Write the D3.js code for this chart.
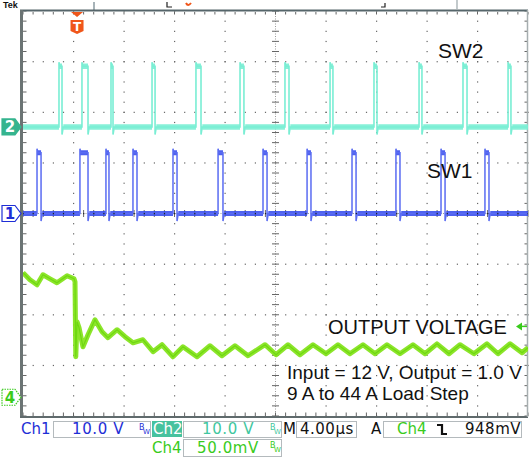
<!DOCTYPE html>
<html><head><meta charset="utf-8">
<script src="https://cdn.jsdelivr.net/npm/d3@7/dist/d3.min.js"></script>
<style>
body{margin:0;background:#fff;overflow:hidden;}
svg{display:block;}
</style>
</head><body>
<svg id="c" width="531" height="460"></svg>
<script>
// ---------------- DATA ----------------
const timeDomain = [0, 40];              // µs : 10 div x 4.00 µs
const timePerDiv = 4;
// SW2 (Ch2) pulses: [rise, fall] in µs
const sw2Rise = [2.85, 4.67, 6.97, 10.22, 13.70, 17.19, 20.75, 24.32, 27.80, 31.37, 34.85, 38.42];
const sw2Fall = [3.09, 5.15, 7.13, 10.46, 14.10, 17.50, 21.07, 24.55, 28.04, 31.60, 35.17, 38.65];
// SW1 (Ch1) pulses: [rise, fall] in µs
const sw1Rise = [1.11, 4.51, 6.57, 8.71, 11.88, 15.45, 19.01, 22.50, 26.06, 29.54, 33.11, 36.59];
const sw1Fall = [1.43, 5.15, 6.81, 9.03, 12.20, 15.84, 19.33, 22.81, 26.38, 29.86, 33.43, 36.91];
const swHigh = 12;        // V
const swOvershoot = 0.8;  // V
const swUndershoot = 1.5; // V
// Output voltage (Ch4, mV relative to Ch4 reference marker)
const outT  = [0,0.55,1.11,1.58,2.14,2.69,3.49,4.04,4.12,4.18,4.28,4.44,4.75,5.15,5.70,6.26,6.73,7.45,8.08,8.71,9.50,10.30,11.01,11.88,12.67,13.78,14.81,15.76,16.79,17.82,19.17,20.04,20.99,21.94,22.97,24.00,24.95,25.90,26.93,27.88,28.83,29.86,30.89,31.84,32.79,33.74,34.61,35.72,36.75,37.62,38.58,39.53,40.0];
const outMV = [123.0,116.1,111.1,121.0,117.0,113.1,120.0,117.0,114.1,40.0,74.6,68.6,49.9,61.7,76.5,64.7,58.8,66.7,59.8,53.8,56.8,45.0,51.9,40.0,49.9,40.0,50.9,41.0,50.9,41.0,51.9,42.0,51.9,42.0,51.9,43.0,51.9,43.0,51.9,43.0,51.9,43.0,51.9,43.0,52.8,43.0,51.9,43.0,52.8,43.0,52.8,44.0,48.9];
// Channel settings
const chNames = ["Ch1", "Ch2", "Ch4"];
const chScaleText = ["10.0 V", "10.0 V", "50.0mV"];
const chVoltsPerDiv = [10, 10, 50];
const chPositionDiv = [0, 1.71, -3.63];
const triggerTime = 4.28;   // µs
const triggerLevelMV = 70;  // relative to Ch4 marker
const triggerText = "948mV";
const timebaseText = "4.00µs";
const labelTexts = ["SW2", "SW1", "OUTPUT VOLTAGE", "Input = 12 V, Output = 1.0 V", "9 A to 44 A Load Step"];

// ---------------- LAYOUT ----------------
const X0 = 23, X1 = 528, Y0 = 11, Y1 = 416;
const svg = d3.select("#c");
const x = d3.scaleLinear().domain(timeDomain).range([X0, X1]);
const divY = d3.scaleLinear().domain([-4, 4]).range([Y1, Y0]);
const divX = d3.scaleLinear().domain([0, 10]).range([X0, X1]);
function chScale(i) {
  const v = chVoltsPerDiv[i], p = chPositionDiv[i];
  return d3.scaleLinear().domain([(-4 - p) * v, (4 - p) * v]).range([Y1, Y0]);
}
const y1 = chScale(0), y2 = chScale(1), y4 = chScale(2);

const COL = {
  blue: "#2f45ec", blueTxt: "#1e2ed6",
  cyan: "#7aeed4", teal: "#35b48e", tealTxt: "#3fc7a0",
  green: "#86e41f", greenTxt: "#3acb1c",
  orange: "#f0561a"
};

svg.append("rect").attr("width", 531).attr("height", 460).attr("fill", "#fff");

// ---------------- HEADER ----------------
svg.append("text").attr("x", 3).attr("y", 8).attr("font-family", "Liberation Sans, Arial, sans-serif")
  .attr("font-weight", "bold").attr("font-size", 9).attr("fill", "#111").text("Tek");
svg.append("line").attr("x1", 94).attr("x2", 94).attr("y1", 2).attr("y2", 10).attr("stroke", "#8a9aa0").attr("stroke-width", 1.5);
svg.append("path").attr("d", "M167,2 V7 H172").attr("fill", "none").attr("stroke", "#222").attr("stroke-width", 1.2);
svg.append("path").attr("d", "M186,3 Q188,7 191,3").attr("fill", "none").attr("stroke", COL.orange).attr("stroke-width", 2);
svg.append("path").attr("d", "M381,7 H385 V3").attr("fill", "none").attr("stroke", "#222").attr("stroke-width", 1.2);
svg.append("line").attr("x1", 457).attr("x2", 457).attr("y1", 0).attr("y2", 9).attr("stroke", "#9aa6aa").attr("stroke-width", 1.2);

// ---------------- GRATICULE ----------------
const g = svg.append("g");
const minor = d3.range(0, 8.001, 0.2).map(d => d - 4);   // vertical minor positions (div)
const minorH = d3.range(0, 10.001, 0.2);                 // horizontal minor positions (div)
[1,2,3,4,6,7,8,9].forEach(i => {
  g.selectAll(null).data(minor).enter().append("rect")
    .attr("x", divX(i) - 0.5).attr("y", d => divY(d) - 0.5).attr("width", 1.2).attr("height", 1.2).attr("fill", "#666");
});
[-3,-2,-1,1,2,3].forEach(j => {
  g.selectAll(null).data(minorH).enter().append("rect")
    .attr("x", d => divX(d) - 0.5).attr("y", divY(j) - 0.5).attr("width", 1.2).attr("height", 1.2).attr("fill", "#666");
});
g.append("line").attr("x1", divX(5)).attr("x2", divX(5)).attr("y1", Y0).attr("y2", Y1)
  .attr("stroke", "#9a9a9a").attr("stroke-width", 1).attr("stroke-dasharray", "1,1.5");
g.append("line").attr("x1", X0).attr("x2", X1).attr("y1", divY(0)).attr("y2", divY(0))
  .attr("stroke", "#9a9a9a").attr("stroke-width", 1).attr("stroke-dasharray", "1,1.5");
g.selectAll(null).data(minor).enter().append("line")
  .attr("x1", divX(5) - 3.5).attr("x2", divX(5) + 3.5).attr("y1", d => divY(d)).attr("y2", d => divY(d))
  .attr("stroke", "#666").attr("stroke-width", 1);
g.selectAll(null).data(minorH).enter().append("line")
  .attr("y1", divY(0) - 3.5).attr("y2", divY(0) + 3.5).attr("x1", d => divX(d)).attr("x2", d => divX(d))
  .attr("stroke", "#666").attr("stroke-width", 1);
g.selectAll(null).data(minorH).enter().append("line")
  .attr("x1", d => divX(d)).attr("x2", d => divX(d)).attr("y1", Y0 + 1).attr("y2", Y0 + 3.5)
  .attr("stroke", "#666").attr("stroke-width", 1);
g.selectAll(null).data(minorH).enter().append("line")
  .attr("x1", d => divX(d)).attr("x2", d => divX(d)).attr("y1", Y1 - 3.5).attr("y2", Y1)
  .attr("stroke", "#666").attr("stroke-width", 1);
g.selectAll(null).data(minor).enter().append("line")
  .attr("x1", X0).attr("x2", X0 + 3.5).attr("y1", d => divY(d)).attr("y2", d => divY(d))
  .attr("stroke", "#666").attr("stroke-width", 1);
g.selectAll(null).data(minor).enter().append("line")
  .attr("x1", X1 - 3.5).attr("x2", X1).attr("y1", d => divY(d)).attr("y2", d => divY(d))
  .attr("stroke", "#666").attr("stroke-width", 1);
g.append("line").attr("x1", 20).attr("x2", X1).attr("y1", Y0 - 0.5).attr("y2", Y0 - 0.5).attr("stroke", "#56666b").attr("stroke-width", 2);
g.append("line").attr("x1", 21.5).attr("x2", 21.5).attr("y1", Y0 - 1).attr("y2", Y1 + 2).attr("stroke", "#6b7474").attr("stroke-width", 3);
g.append("line").attr("x1", 20).attr("x2", X1).attr("y1", Y1 + 1).attr("y2", Y1 + 1).attr("stroke", "#5f6a6c").attr("stroke-width", 2);
g.append("line").attr("x1", X1 - 0.5).attr("x2", X1 - 0.5).attr("y1", Y0 - 1).attr("y2", Y1 + 1).attr("stroke", "#a6aeb0").attr("stroke-width", 1.5);

// ---------------- SWITCH WAVEFORMS ----------------
function swPaths(rise, fall, ys) {
  let thin = `M${x(timeDomain[0])},${ys(0)}`;
  let thick = "";
  let prev = timeDomain[0];
  rise.forEach((r, i) => {
    const f = fall[i];
    thick += `M${x(prev)},${ys(0)}L${x(r)},${ys(0)}`;
    thick += `M${x(r)},${ys(swHigh)}L${x(f)},${ys(swHigh)}`;
    thin += `L${x(r)},${ys(0)}L${x(r)},${ys(swHigh + swOvershoot)}L${x(r + 0.06)},${ys(swHigh)}L${x(f)},${ys(swHigh)}`;
    thin += `L${x(f)},${ys(-swUndershoot)}L${x(f + 0.1)},${ys(0)}`;
    prev = f + 0.1;
  });
  thin += `L${x(timeDomain[1])},${ys(0)}`;
  thick += `M${x(prev)},${ys(0)}L${x(timeDomain[1])},${ys(0)}`;
  return {thin, thick};
}
svg.append("clipPath").attr("id", "plot").append("rect")
  .attr("x", X0).attr("y", Y0).attr("width", X1 - X0).attr("height", Y1 - Y0);
const traces = svg.append("g").attr("clip-path", "url(#plot)");

const p2 = swPaths(sw2Rise, sw2Fall, y2);
traces.append("path").attr("d", p2.thick).attr("fill", "none").attr("stroke", COL.cyan).attr("stroke-width", 5.5).attr("opacity", 0.9);
traces.append("path").attr("d", p2.thin).attr("fill", "none").attr("stroke", COL.cyan).attr("stroke-width", 1.6);

const p1 = swPaths(sw1Rise, sw1Fall, y1);
traces.append("path").attr("d", p1.thick).attr("fill", "none").attr("stroke", COL.blue).attr("stroke-width", 5).attr("opacity", 0.85);
traces.append("path").attr("d", p1.thin).attr("fill", "none").attr("stroke", "#5a6cf2").attr("stroke-width", 1.5);
traces.selectAll(null).data(minorH).enter().append("rect")
  .attr("x", d => divX(d) - 0.5).attr("y", divY(0) - 0.5).attr("width", 1.2).attr("height", 1.2).attr("fill", "#222");

// ---------------- OUTPUT VOLTAGE ----------------
const outData = outT.map((t, i) => [t, outMV[i]]);
const line = d3.line().x(d => x(d[0])).y(d => y4(d[1]));
traces.append("path").datum(outData).attr("d", line).attr("fill", "none")
  .attr("stroke", COL.green).attr("stroke-width", 5).attr("stroke-linejoin", "round").attr("opacity", 0.95);
traces.append("path").datum(outData).attr("d", line).attr("fill", "none")
  .attr("stroke", "#6fd812").attr("stroke-width", 1.2);

// ---------------- MARKERS ----------------
const tx = x(triggerTime);
svg.append("path").attr("d", `M${tx - 6},${Y0 + 1} L${tx + 6},${Y0 + 1} L${tx},${Y0 + 6} Z`).attr("fill", COL.orange);
svg.append("path").attr("d", `M${tx - 6.5},${Y0 + 9} h13 v11 l-6.5,3 l-6.5,-3 Z`).attr("fill", COL.orange);
svg.append("text").attr("x", tx).attr("y", Y0 + 19.5).attr("text-anchor", "middle")
  .attr("font-family", "DejaVu Sans, sans-serif").attr("font-weight", "bold").attr("font-size", 12).attr("fill", "#fff").text("T");

function chMarker(yc, label, filled, color) {
  const d = `M2,${yc - 8} H15 L21,${yc} L15,${yc + 8} H2 Z`;
  svg.append("path").attr("d", d).attr("fill", filled ? color : "#fff")
    .attr("stroke", color).attr("stroke-width", 1.2).attr("stroke-dasharray", filled ? null : (label === "4" ? "1.5,1" : null));
  svg.append("text").attr("x", 10).attr("y", yc + 5.5).attr("text-anchor", "middle")
    .attr("font-family", "DejaVu Sans, sans-serif").attr("font-weight", "bold").attr("font-size", 15)
    .attr("fill", filled ? "#fff" : color).text(label);
}
chMarker(y2(0), "2", true, COL.teal);
chMarker(y1(0), "1", false, COL.blueTxt);
chMarker(y4(0), "4", false, COL.greenTxt);

const ty = y4(triggerLevelMV);
svg.append("path").attr("d", `M${X1 - 12},${ty} l6,-4 v8 Z`).attr("fill", COL.greenTxt);
svg.append("line").attr("x1", X1 - 7).attr("x2", X1 - 1).attr("y1", ty).attr("y2", ty).attr("stroke", COL.greenTxt).attr("stroke-width", 1.5);

// ---------------- LABELS ----------------
const lab = svg.append("g").attr("font-family", "Liberation Sans, Arial, Helvetica, sans-serif").attr("fill", "#111");
lab.append("text").attr("x", 438).attr("y", 58).attr("font-size", 21).text(labelTexts[0]);
lab.append("text").attr("x", 427).attr("y", 178).attr("font-size", 21).text(labelTexts[1]);
lab.append("text").attr("x", 328).attr("y", 334).attr("font-size", 20).text(labelTexts[2]);
lab.append("text").attr("x", 287).attr("y", 379).attr("font-size", 19).text(labelTexts[3]);
lab.append("text").attr("x", 287).attr("y", 400).attr("font-size", 19).text(labelTexts[4]);

// ---------------- STATUS BAR ----------------
const sb = svg.append("g").attr("font-family", "DejaVu Sans, sans-serif").attr("font-size", 15);
function box(xx, yy, w, h) {
  sb.append("rect").attr("x", xx + 0.5).attr("y", yy + 0.5).attr("width", w).attr("height", h)
    .attr("fill", "#fff").attr("stroke", "#b4babd").attr("stroke-width", 1);
}
function bw(xx, yy, color) {
  sb.append("text").attr("x", xx).attr("y", yy).attr("font-size", 8).attr("fill", color).text("B");
  sb.append("text").attr("x", xx + 4).attr("y", yy + 4).attr("font-size", 7).attr("fill", color).text("W");
}
sb.append("text").attr("x", 21).attr("y", 434).attr("fill", COL.blueTxt).text(chNames[0]);
box(53, 421, 97, 16);
sb.append("text").attr("x", 72).attr("y", 434).attr("fill", COL.blueTxt).attr("letter-spacing", 0.6).text(chScaleText[0]);
bw(139, 430, COL.blueTxt);
sb.append("rect").attr("x", 152).attr("y", 421).attr("width", 30).attr("height", 16).attr("fill", "#47c29e");
sb.append("text").attr("x", 153).attr("y", 434).attr("fill", "#fff").text(chNames[1]);
box(183, 421, 98, 16);
sb.append("text").attr("x", 202).attr("y", 434).attr("fill", COL.tealTxt).attr("letter-spacing", 0.6).text(chScaleText[1]);
bw(270, 430, COL.tealTxt);
sb.append("text").attr("x", 283).attr("y", 434).attr("fill", "#111").text("M");
box(296, 421, 60, 16);
sb.append("text").attr("x", 300).attr("y", 434).attr("fill", "#111").attr("letter-spacing", 0.5).text(timebaseText);
sb.append("text").attr("x", 371).attr("y", 434).attr("fill", "#111").text("A");
box(383, 421, 138, 16);
sb.append("text").attr("x", 397).attr("y", 434).attr("fill", COL.greenTxt).text(chNames[2]);
sb.append("path").attr("d", "M437,425 H442 V434 H447").attr("fill", "none").attr("stroke", "#111").attr("stroke-width", 2.2);
sb.append("text").attr("x", 465).attr("y", 434).attr("fill", "#111").attr("letter-spacing", 0.5).text(triggerText);
sb.append("text").attr("x", 152).attr("y", 453).attr("fill", COL.greenTxt).text(chNames[2]);
box(183, 439, 98, 17);
sb.append("text").attr("x", 197).attr("y", 453).attr("fill", COL.greenTxt).attr("letter-spacing", 0.6).text(chScaleText[2]);
bw(270, 448, COL.greenTxt);
</script>
</body></html>
